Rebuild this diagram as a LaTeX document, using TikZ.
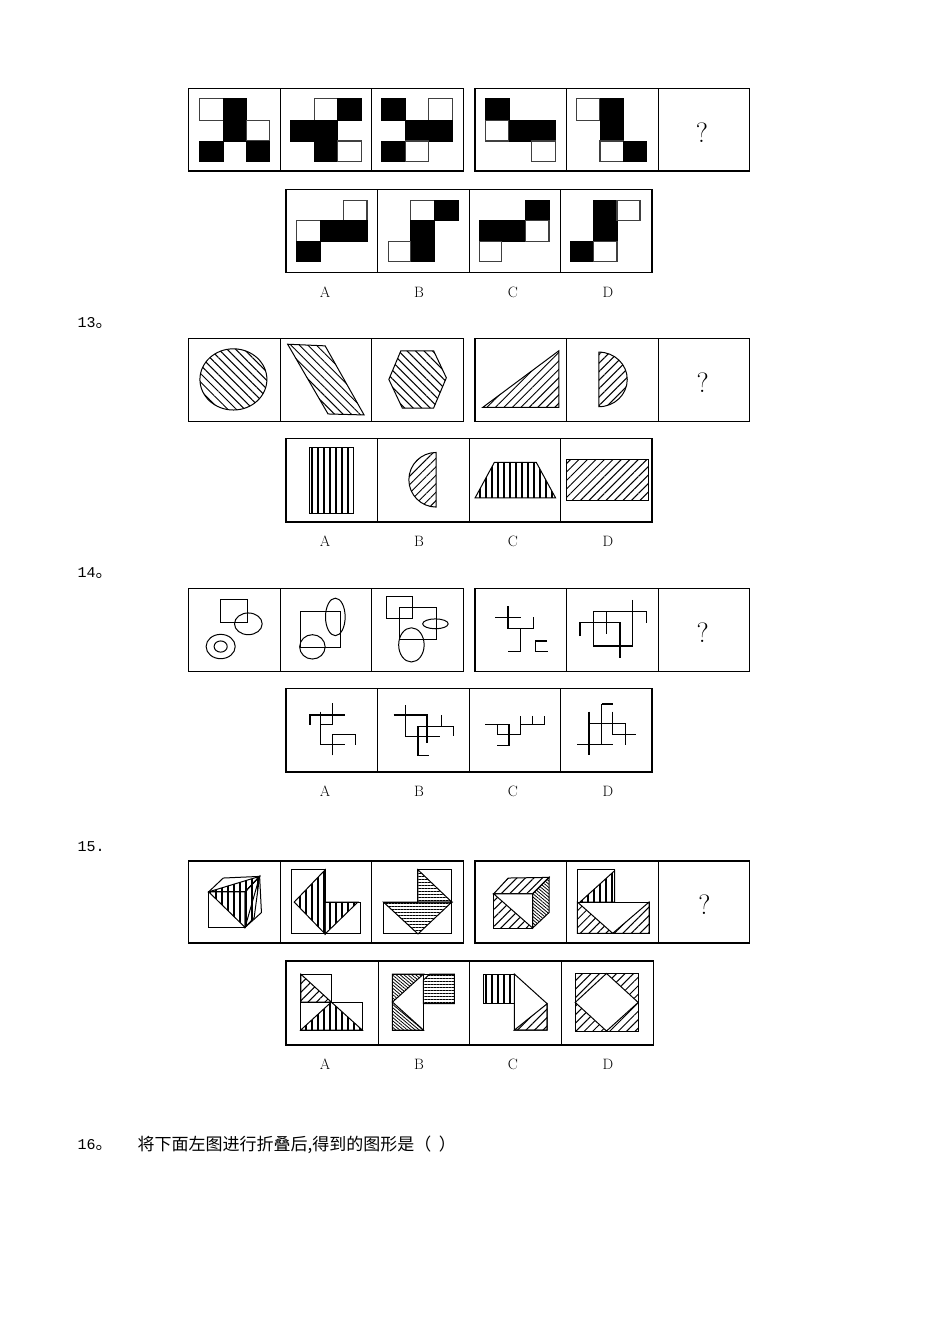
\documentclass[tikz,border=0pt]{standalone}
\usepackage{fontspec}
\setmonofont{Liberation Mono}
\newfontfamily\cjk{Noto Sans CJK SC}
\usetikzlibrary{patterns.meta}
\tikzset{
 obox/.style={line width=1.4pt},
 ibox/.style={line width=0.8pt},
 fig/.style={line width=1pt},
 blk/.style={fill=black,draw=black,line width=0.8pt},
 wht/.style={draw=black!75,line width=1.2pt},
 hb/.style={fig,pattern={Lines[angle=-45,distance=6pt,line width=1pt]}},
 hf/.style={fig,pattern={Lines[angle=45,distance=6pt,line width=1pt]}},
 hv/.style={fig,pattern={Lines[angle=90,distance=6pt,line width=1.2pt]}},
 hh/.style={fig,pattern={Lines[angle=0,distance=3pt,line width=0.9pt]}},
 hd/.style={fig,pattern={Lines[angle=-40,distance=2.5pt,line width=0.8pt]}},
 lbl/.style={font=\fontsize{15}{17}\selectfont},
 qm/.style={font=\fontsize{28}{30}\selectfont},
 num/.style={anchor=west,font=\ttfamily\fontsize{15}{17}\selectfont},
 ln/.style={line width=1.3pt}
}
\newcommand{\frames}[2]{% #1 group top, #2 option top
 \draw[obox] (10,#1) rectangle (765,#1+252);
 \draw[ibox] (262,#1) -- (262,#1+252) (513,#1) -- (513,#1+252);
 \draw[obox] (797,#1) rectangle (1550,#1+252);
 \draw[ibox] (1048,#1) -- (1048,#1+252) (1300,#1) -- (1300,#1+252);
 \draw[obox] (277,#2) rectangle (1283,#2+253);
 \draw[ibox] (528,#2) -- (528,#2+253) (780,#2) -- (780,#2+253) (1032,#2) -- (1032,#2+253);
}
\begin{document}
\begin{tikzpicture}[x=1pt,y=-1pt]
\fill[white] (0,0) rectangle (950,1344);
\useasboundingbox (0,0) rectangle (950,1344);
% labels
\foreach \yy in {292,541,791,1064}{
 \node[lbl] (la\yy) at (325,\yy) {A};
 \node[lbl] (lb\yy) at (419,\yy) {B};
 \node[lbl] (lc\yy) at (513,\yy) {C};
 \node[lbl] (ld\yy) at (608,\yy) {D};
}
\node[num] (n13) at (74,323) {13{\cjk\fontsize{17}{19}\selectfont 。}};
\node[num] (n14) at (74,573) {14{\cjk\fontsize{17}{19}\selectfont 。}};
\node[num] (n15) at (74,847) {15.};
\node[num] (n16) at (74,1145) {16{\cjk\fontsize{17}{19}\selectfont 。}};
\node[anchor=west,font=\cjk\fontsize{17}{19}\selectfont] (t16) at (134,1145) {将下面左图进行折叠后,得到的图形是（\ \ ）};
% ---------- Row 1
\begin{scope}[shift={(185,85)}]\begin{scope}[x=0.364pt,y=-0.329pt]
\frames{10}{317}
\draw[wht] (40,42) rectangle (105,107);
\draw[blk] (105,42) rectangle (170,170);
\draw[wht] (170,107) rectangle (232,170);
\draw[blk] (40,170) rectangle (105,232);
\draw[blk] (170,170) rectangle (232,232);
\draw[wht] (355,42) rectangle (420,107);
\draw[blk] (420,42) rectangle (485,107);
\draw[blk] (290,107) rectangle (420,170);
\draw[blk] (355,170) rectangle (420,232);
\draw[wht] (420,170) rectangle (485,232);
\draw[blk] (540,42) rectangle (605,107);
\draw[wht] (670,42) rectangle (735,107);
\draw[blk] (605,107) rectangle (735,170);
\draw[blk] (540,170) rectangle (605,232);
\draw[wht] (605,170) rectangle (670,232);
\draw[blk] (825,42) rectangle (890,107);
\draw[wht] (825,107) rectangle (890,170);
\draw[blk] (890,107) rectangle (1017,170);
\draw[wht] (953,170) rectangle (1017,232);
\draw[wht] (1075,42) rectangle (1140,107);
\draw[blk] (1140,42) rectangle (1205,170);
\draw[wht] (1140,170) rectangle (1205,232);
\draw[blk] (1205,170) rectangle (1268,232);
\node[qm] (q1) at (1420,145) {?};
\draw[wht] (435,350) rectangle (500,412);
\draw[wht] (307,412) rectangle (372,475);
\draw[blk] (372,412) rectangle (500,475);
\draw[blk] (307,475) rectangle (372,537);
\draw[wht] (620,350) rectangle (685,412);
\draw[blk] (685,350) rectangle (750,412);
\draw[blk] (620,412) rectangle (685,537);
\draw[wht] (558,475) rectangle (620,537);
\draw[blk] (935,350) rectangle (1000,412);
\draw[blk] (808,412) rectangle (935,475);
\draw[wht] (935,412) rectangle (1000,475);
\draw[wht] (808,475) rectangle (870,537);
\draw[blk] (1122,350) rectangle (1187,475);
\draw[wht] (1187,350) rectangle (1250,412);
\draw[blk] (1060,475) rectangle (1122,537);
\draw[wht] (1122,475) rectangle (1187,537);
\end{scope}\end{scope}
% ---------- Row 2
\begin{scope}[shift={(185,335)}]\begin{scope}[x=0.364pt,y=-0.329pt]
\frames{10}{315}
\draw[hb] (133,135) ellipse [x radius=92,y radius=93];
\draw[hb] (282,28) -- (385,33) -- (492,243) -- (393,240) -- cycle;
\draw[hb] (593,48) -- (683,48) -- (718,130) -- (683,222) -- (597,222) -- (560,135) -- cycle;
\draw[hf] (818,220) -- (1027,48) -- (1027,220) -- cycle;
\draw[hf] (1137,52) arc[start angle=-90,end angle=90,x radius=78,y radius=83] -- cycle;
\node[qm] (q2) at (1422,145) {?};
\draw[hv] (342,342) rectangle (462,543);
\draw[hf] (690,357) arc[start angle=-90,end angle=-270,x radius=75,y radius=83] -- cycle;
\draw[hv] (797,495) -- (850,387) -- (965,387) -- (1018,495) -- cycle;
\draw[hf] (1047,377) rectangle (1273,503);
\end{scope}\end{scope}
% ---------- Row 3
\begin{scope}[shift={(185,585)}]\begin{scope}[x=0.364pt,y=-0.329pt]
\frames{10}{315}
\draw[fig] (98,45) rectangle (172,115);
\draw[fig] (174,118) ellipse [x radius=38,y radius=33];
\draw[fig] (98,187) ellipse [x radius=40,y radius=37];
\draw[fig] (98,187) ellipse [x radius=18,y radius=17];
\draw[fig] (317,82) rectangle (427,190);
\draw[fig] (413,97) ellipse [x radius=27,y radius=57];
\draw[fig] (350,188) ellipse [x radius=35,y radius=37];
\draw[fig] (553,35) rectangle (625,102);
\draw[fig] (590,68) rectangle (690,165);
\draw[fig] (688,118) ellipse [x radius=35,y radius=15];
\draw[fig] (622,182) ellipse [x radius=35,y radius=52];
\draw[ln] (852,98) -- (922,98);
\draw[ln] (887,65) -- (887,132) -- (958,132) -- (958,98);
\draw[ln] (922,132) -- (922,203) -- (887,203);
\draw[ln] (995,170) -- (962,170) -- (962,203) -- (997,203);
\draw[ln] (1085,155) -- (1085,115) -- (1195,115) -- (1195,222);
\draw[ln] (1158,80) -- (1268,80) -- (1268,115);
\draw[ln] (1230,45) -- (1230,185) -- (1122,185) -- (1122,80) -- (1158,80);
\draw[ln] (1158,80) -- (1158,150);
\node[qm] (q3) at (1422,145) {?};
\draw[ln] (372,385) -- (372,485) -- (440,485);
\draw[ln] (343,425) -- (343,395) -- (440,395);
\draw[ln] (405,360) -- (405,425) -- (372,425);
\draw[ln] (405,518) -- (405,455) -- (468,455) -- (468,485);
\draw[ln] (573,395) -- (665,395) -- (665,480);
\draw[ln] (605,365) -- (605,460) -- (700,460);
\draw[ln] (640,430) -- (640,518) -- (670,518);
\draw[ln] (637,430) -- (705,430) -- (705,395);
\draw[ln] (705,430) -- (738,430) -- (738,460);
\draw[ln] (825,425) -- (890,425) -- (890,488) -- (858,488);
\draw[ln] (858,425) -- (858,455) -- (922,455) -- (922,398);
\draw[ln] (955,398) -- (955,425) -- (988,425) -- (988,398);
\draw[ln] (922,425) -- (988,425);
\draw[ln] (1145,362) -- (1175,362);
\draw[ln] (1145,362) -- (1145,485);
\draw[ln] (1110,385) -- (1110,518);
\draw[ln] (1110,420) -- (1210,420) -- (1210,485);
\draw[ln] (1078,485) -- (1175,485);
\draw[ln] (1175,385) -- (1175,455) -- (1240,455);
\end{scope}\end{scope}
% ---------- Row 4
\begin{scope}[shift={(185,855)}]\begin{scope}[x=0.364pt,y=-0.329pt]
\draw[obox] (10,18) rectangle (765,268);
\draw[ibox] (262,18) -- (262,268) (513,18) -- (513,268);
\draw[obox] (797,18) rectangle (1550,268);
\draw[ibox] (1048,18) -- (1048,268) (1300,18) -- (1300,268);
\draw[obox] (277,322) rectangle (1287,577);
\draw[ibox] (530,322) -- (530,577) (782,322) -- (782,577) (1035,322) -- (1035,577);
\draw[fig] (65,112) -- (105,70) -- (205,65) -- (165,112) -- cycle;
\draw[fig] (165,112) -- (205,65) -- (210,175) -- (165,220) -- cycle;
\draw[fig] (65,112) rectangle (165,220);
\draw[hv] (65,112) -- (205,65) -- (165,220) -- cycle;
\draw[hv] (165,112) -- (205,65) -- (190,190) -- (165,220) -- cycle;
\draw[fig] (293,45) -- (385,45) -- (385,143) -- (482,143) -- (482,240) -- (293,240) -- cycle;
\draw[hv] (300,143) -- (385,45) -- (385,240) -- cycle;
\draw[hv] (385,143) -- (475,143) -- (385,240) -- cycle;
\draw[fig] (640,45) -- (733,45) -- (733,240) -- (545,240) -- (545,143) -- (640,143) -- cycle;
\draw[hh] (640,45) -- (733,143) -- (640,143) -- cycle;
\draw[hh] (545,143) -- (733,143) -- (640,240) -- cycle;
\draw[hf] (848,118) -- (888,70) -- (1000,68) -- (955,118) -- cycle;
\draw[hd] (955,118) -- (1000,68) -- (1000,175) -- (955,222) -- cycle;
\draw[hf] (848,118) rectangle (955,222);
\draw[fig,fill=white] (848,118) -- (955,118) -- (955,222) -- cycle;
\draw[fig] (1078,45) rectangle (1180,143);
\draw[fig] (1078,143) rectangle (1275,238);
\draw[hv] (1180,48) -- (1180,143) -- (1085,143) -- cycle;
\draw[hf] (1078,143) -- (1078,238) -- (1175,238) -- cycle;
\draw[hf] (1275,143) -- (1275,238) -- (1175,238) -- cycle;
\node[qm] (q4) at (1427,150) {?};
\draw[fig] (318,362) rectangle (402,447);
\draw[fig] (318,447) rectangle (487,532);
\draw[hf] (318,362) -- (402,447) -- (318,447) -- cycle;
\draw[hv] (318,532) -- (402,447) -- (487,532) -- cycle;
\draw[fig] (570,362) rectangle (655,532);
\draw[fig] (655,362) rectangle (740,452);
\draw[hd] (570,362) -- (655,362) -- (570,447) -- cycle;
\draw[hd] (570,447) -- (655,532) -- (570,532) -- cycle;
\draw[hh] (672,362) -- (740,362) -- (740,452) -- (655,452) -- (655,380) -- cycle;
\draw[hv] (820,362) rectangle (905,452);
\draw[fig] (905,362) -- (995,452) -- (995,532) -- (905,532) -- cycle;
\draw[hf] (905,532) -- (995,452) -- (995,532) -- cycle;
\draw[hf] (1072,360) rectangle (1245,535);
\draw[fig,fill=white] (1158,360) -- (1245,448) -- (1158,535) -- (1072,448) -- cycle;
\draw[fig] (1072,360) rectangle (1245,535);
\end{scope}\end{scope}
\end{tikzpicture}
\end{document}
